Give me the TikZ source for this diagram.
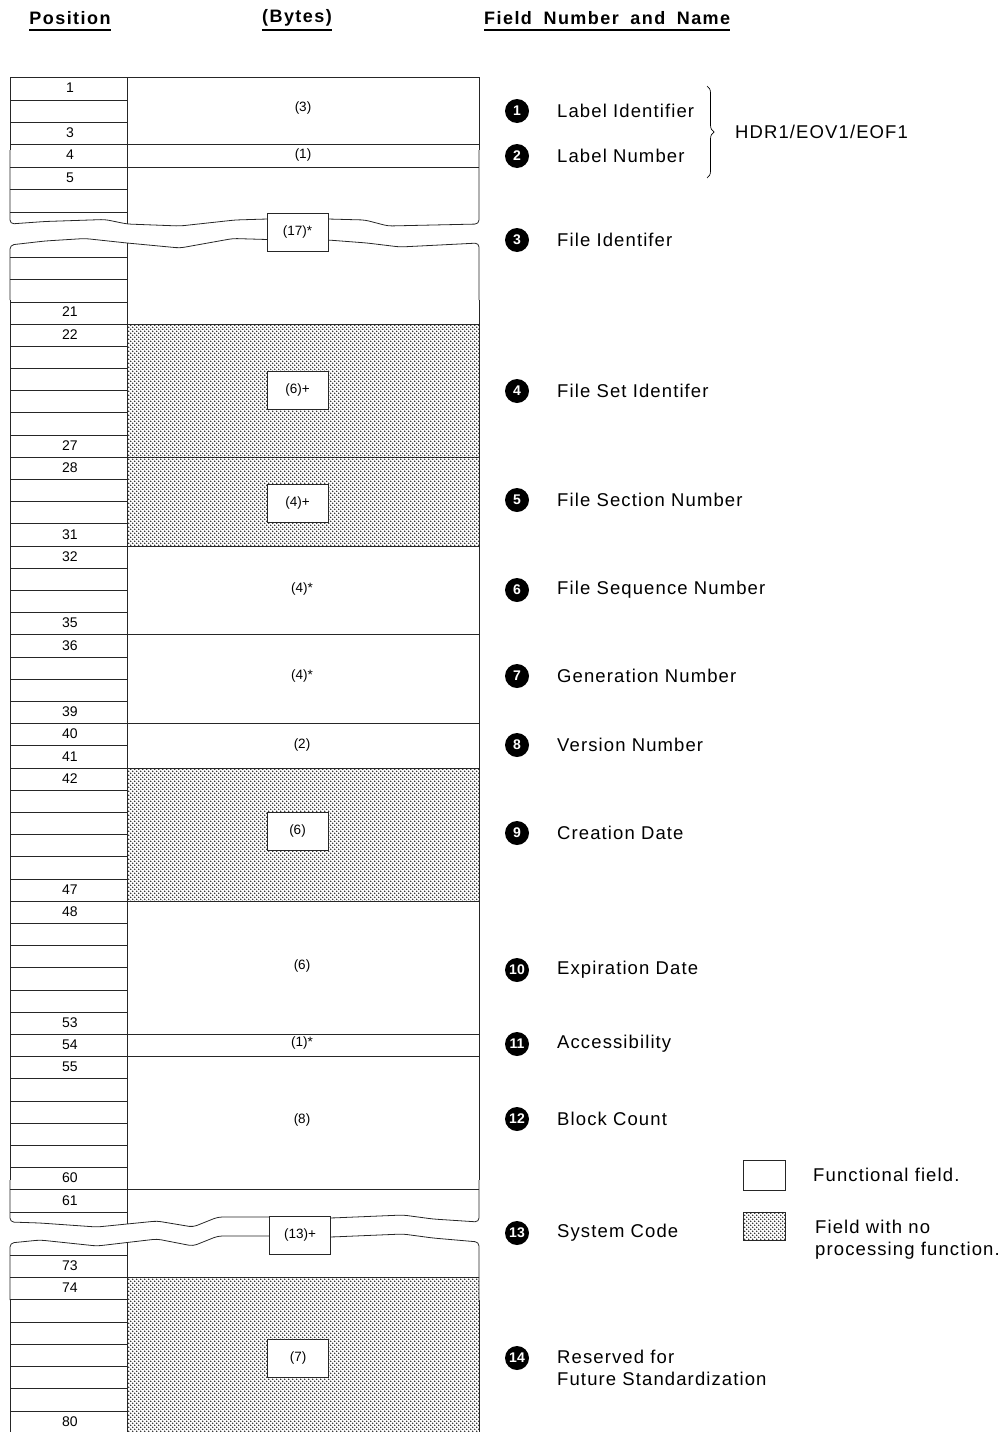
\documentclass[tikz,border=0pt]{standalone}
\usepackage{fontspec}
\setmainfont{Liberation Sans}
\newfontfamily\lblfont[LetterSpace=6]{Liberation Sans}
\newfontfamily\hdrfont[LetterSpace=8,WordSpace=1.8]{Liberation Sans}
\usetikzlibrary{patterns,decorations.pathreplacing}
\pgfdeclarepatternformonly{fdots}{\pgfqpoint{-1pt}{-1pt}}{\pgfqpoint{5pt}{5pt}}{\pgfqpoint{4pt}{4pt}}{%
  \pgfpathcircle{\pgfqpoint{0.7pt}{0.7pt}}{0.8pt}%
  \pgfpathcircle{\pgfqpoint{2.7pt}{2.7pt}}{0.8pt}%
  \pgfusepath{fill}}
\begin{document}
\begin{tikzpicture}[x=1pt,y=-1pt,
  grid/.style={line width=0.8pt, draw=black!85},
  posnum/.style={inner sep=0pt, font=\fontsize{14}{14}\selectfont},
  bytelbl/.style={inner sep=0pt, font=\fontsize{13.5}{13.5}\selectfont},
  bytebox/.style={draw=black!85, line width=0.8pt, fill=white, minimum width=61pt, minimum height=38pt, inner sep=0pt, font=\fontsize{13.5}{13.5}\selectfont},
  numdot/.style={circle, fill=black, minimum size=24pt, inner sep=0pt, text=white, font=\bfseries\fontsize{14}{14}\selectfont},
  fname/.style={anchor=west, inner sep=0pt, font=\lblfont\fontsize{18.5}{22}\selectfont, align=left},
  hdr/.style={font=\hdrfont\bfseries\fontsize{18}{18}\selectfont, inner sep=0pt},
  hdrline/.style={line width=1.2pt},
  shade/.style={pattern=fdots, pattern color=black!85}
]
\useasboundingbox (0,0) rectangle (1008,1432);

% ---- shaded fields ----
\fill[shade] (127,324) rectangle (479,546);
\fill[shade] (127,768) rectangle (479,901.2);
\fill[shade] (127,1277.3) rectangle (479,1440);

% ---- headers ----
\node[hdr] (h1) at (70,18) {Position};
\node[hdr] (h2) at (297,18) {(Bytes)};
\node[hdr, anchor=west] (h3) at (484,18) {Field Number and Name};
\draw[hdrline] (h1.west |- 0,30) -- (h1.east |- 0,30);
\draw[hdrline] (h2.west |- 0,30) -- (h2.east |- 0,30);
\draw[hdrline] (h3.west |- 0,30) -- (h3.east |- 0,30);

% ---- outline ----
\draw[grid] (10,150) -- (10,77) -- (479,77) -- (479,150);
\draw[grid, rounded corners=4pt] (10,150) -- (10,224) -- (45,221.5) -- (105,219.5) -- (127,224) -- (180,226) -- (235,220) -- (267,219) -- (328,219) -- (365,220) -- (388,226) -- (479,224) -- (479,150);
\draw[grid, rounded corners=4pt] (10,300) -- (10,245) -- (45,241) -- (85,238.5) -- (127,243) -- (180,248) -- (233,238.5) -- (267,239.5) -- (328,240) -- (367,243) -- (400,247) -- (479,243) -- (479,300);
\draw[grid] (10,300) -- (10,1180);
\draw[grid] (479,300) -- (479,1180);
\draw[grid, rounded corners=4pt] (10,1180) -- (10,1222) -- (40,1223) -- (97,1227) -- (157,1221) -- (193,1227) -- (218,1217) -- (269,1217) -- (331,1218) -- (403,1215) -- (433,1219) -- (479,1222) -- (479,1180);
\draw[grid, rounded corners=4pt] (10,1300) -- (10,1243) -- (40,1240) -- (97,1246) -- (157,1239) -- (193,1246) -- (218,1236) -- (269,1236) -- (331,1237) -- (403,1234) -- (433,1238) -- (479,1242) -- (479,1300);
\draw[grid] (10,1300) -- (10,1440);
\draw[grid] (479,1300) -- (479,1440);
% column divider
\draw[grid] (127,77) -- (127,224);
\draw[grid] (127,243) -- (127,1224);
\draw[grid] (127,1242.5) -- (127,1440);

% ---- left column row lines ----
\foreach \y in {100,122,144,167,189,212} \draw[grid] (10,\y) -- (127,\y);
\foreach \y in {257,279.5,302} \draw[grid] (10,\y) -- (127,\y);
\foreach \k in {23,...,62} \draw[grid] (10,{324+(\k-22)*22.2}) -- (127,{324+(\k-22)*22.2});
\foreach \k in {73,...,80} \draw[grid] (10,{1255+(\k-73)*22.3}) -- (127,{1255+(\k-73)*22.3});

% ---- right column field lines ----
\foreach \y in {144,167} \draw[grid] (127,\y) -- (479,\y);
\foreach \k in {22,28,32,36,40,42,48,54,55,61} \draw[grid] (10,{324+(\k-22)*22.2}) -- (479,{324+(\k-22)*22.2});
\draw[grid] (127,1277.3) -- (479,1277.3);

% ---- position numbers ----
\node[posnum] (p1) at (70,88) {1};
\node[posnum] (p3) at (70,132.5) {3};
\node[posnum] (p4) at (70,155) {4};
\node[posnum] (p5) at (70,177.5) {5};
\node[posnum] (p21) at (70,312) {21};
\foreach \k in {22,27,28,31,32,35,36,39,40,41,42,47,48,53,54,55,60,61}
  \node[posnum] (p\k) at (70,{324+(\k-22)*22.2+10.5}) {\k};
\foreach \k in {73,74,80}
  \node[posnum] (p\k) at (70,{1255+(\k-73)*22.3+10.5}) {\k};

% ---- byte counts ----
\node[bytelbl] (b1) at (303,108) {(3)};
\node[bytelbl] (b2) at (303,155) {(1)};
\node[bytebox] (b3) at (297.5,232) {(17)*};
\node[bytebox] (b4) at (297.5,390) {(6)+};
\node[bytebox] (b5) at (297.5,503) {(4)+};
\node[bytelbl] (b6) at (302,589) {(4)*};
\node[bytelbl] (b7) at (302,676) {(4)*};
\node[bytelbl] (b8) at (302,745) {(2)};
\node[bytebox] (b9) at (297.5,831) {(6)};
\node[bytelbl] (b10) at (302,966) {(6)};
\node[bytelbl] (b11) at (302,1043) {(1)*};
\node[bytelbl] (b12) at (302,1120) {(8)};
\node[bytebox] (b13) at (300,1235) {(13)+};
\node[bytebox] (b14) at (298,1358) {(7)};

% ---- field numbers and names ----
\node[numdot] (c1) at (517,111) {1};
\node[fname] (f1) at (557,111) {Label Identifier};
\node[numdot] (c2) at (517,156) {2};
\node[fname] (f2) at (557,156) {Label Number};
\node[numdot] (c3) at (517,240) {3};
\node[fname] (f3) at (557,240) {File Identifer};
\node[numdot] (c4) at (517,391) {4};
\node[fname] (f4) at (557,391) {File Set Identifer};
\node[numdot] (c5) at (517,500) {5};
\node[fname] (f5) at (557,500) {File Section Number};
\node[numdot] (c6) at (517,590) {6};
\node[fname] (f6) at (557,590) {File Sequence Number};
\node[numdot] (c7) at (517,676) {7};
\node[fname] (f7) at (557,676) {Generation Number};
\node[numdot] (c8) at (517,745) {8};
\node[fname] (f8) at (557,745) {Version Number};
\node[numdot] (c9) at (517,833) {9};
\node[fname] (f9) at (557,833) {Creation Date};
\node[numdot] (c10) at (517,970) {10};
\node[fname] (f10) at (557,970) {Expiration Date};
\node[numdot] (c11) at (517,1044) {11};
\node[fname] (f11) at (557,1044) {Accessibility};
\node[numdot] (c12) at (517,1119) {12};
\node[fname] (f12) at (557,1119) {Block Count};
\node[numdot] (c13) at (517,1233) {13};
\node[fname] (f13) at (557,1233) {System Code};
\node[numdot] (c14) at (517,1358) {14};
\node[fname] (f14) at (557,1368) {Reserved for\\Future Standardization};

% ---- brace ----
\draw[line width=0.7pt, decorate, decoration={brace, amplitude=7pt}] (707,86) -- (707,178);
\node[fname] (hdr1) at (735,132) {HDR1/EOV1/EOF1};

% ---- legend ----
\node[draw=black!85, line width=0.8pt, fill=white, minimum width=42pt, minimum height=30pt, inner sep=0pt] (lf) at (764,1175) {};
\node[fname] (lft) at (813,1175) {Functional field.};
\node[draw=black!85, line width=0.8pt, shade, minimum width=42pt, minimum height=28pt, inner sep=0pt] (ln) at (764,1226) {};
\node[fname] (lnt) at (815,1240) {Field with no\\processing function.};
\end{tikzpicture}
\end{document}
